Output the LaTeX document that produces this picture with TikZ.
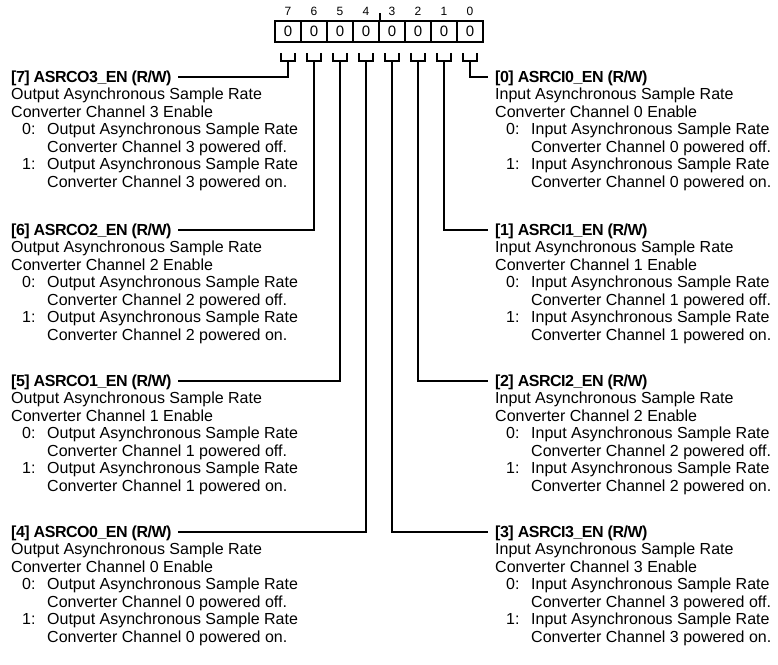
\documentclass[tikz,border=0pt]{standalone}
\usepackage{fontspec}
\setmainfont{Liberation Sans}[BoldFeatures={LetterSpace=-3}]
\usetikzlibrary{calc}
\tikzset{
  txt/.style={anchor=base west, inner sep=0pt, font=\fontsize{16}{17.5}\selectfont},
  cell/.style={draw, line width=2pt, minimum width=26pt, minimum height=21pt, inner sep=0pt, font=\fontsize{15}{16}\selectfont},
  bitlbl/.style={inner sep=0pt, font=\fontsize{12}{13}\selectfont},
  conn/.style={line width=2pt, line join=miter},
}
\newcommand\regblock[6]{%
  \node[txt,font=\fontsize{16}{17.5}\selectfont\bfseries] (#1h) at (#2,#3+5) {#4};
  \node[txt] (#1a) at (#2,#3+22.5) {#5 Asynchronous Sample Rate};
  \node[txt] (#1b) at (#2,#3+40) {Converter Channel #6 Enable};
  \node[txt] (#1c0) at (#2+11,#3+57.5) {0:};
  \node[txt] (#1c) at (#2+36,#3+57.5) {#5 Asynchronous Sample Rate};
  \node[txt] (#1d) at (#2+36,#3+75) {Converter Channel #6 powered off.};
  \node[txt] (#1e0) at (#2+11,#3+92.5) {1:};
  \node[txt] (#1e) at (#2+36,#3+92.5) {#5 Asynchronous Sample Rate};
  \node[txt] (#1f) at (#2+36,#3+110) {Converter Channel #6 powered on.};
}
\begin{document}
\begin{tikzpicture}[x=1pt,y=-1pt]
\useasboundingbox (0,0) rectangle (778,664);
% register cells
\foreach \b/\x in {7/288,6/314,5/340,4/366,3/392,2/418,1/444,0/470}{
  \node[cell] (c\b) at (\x,31) {0};
  \node[bitlbl] (b\b) at (\x,11.5) {\b};
  \draw[conn] ($(c\b.south)+(-7,10.5)$) -- ++(0,8) -- ++(14,0) -- ++(0,-8);
}
\draw[line width=1.5pt] (c4.north east) -- ++(0,-6.5);
% left blocks
\regblock{l7}{11}{77}{[7] ASRCO3\_EN (R/W)}{Output}{3}
\regblock{l6}{11}{230}{[6] ASRCO2\_EN (R/W)}{Output}{2}
\regblock{l5}{11}{381}{[5] ASRCO1\_EN (R/W)}{Output}{1}
\regblock{l4}{11}{532}{[4] ASRCO0\_EN (R/W)}{Output}{0}
% right blocks
\regblock{r0}{495}{77}{[0] ASRCI0\_EN (R/W)}{Input}{0}
\regblock{r1}{495}{230}{[1] ASRCI1\_EN (R/W)}{Input}{1}
\regblock{r2}{495}{381}{[2] ASRCI2\_EN (R/W)}{Input}{2}
\regblock{r3}{495}{532}{[3] ASRCI3\_EN (R/W)}{Input}{3}
% connectors
\foreach \b/\t in {7/l7,6/l6,5/l5,4/l4}{
  \draw[conn] ($(c\b.south)+(0,18.5)$) |- ([shift={(6,-5)}]\t h.base east);
}
\foreach \b/\t in {0/r0,1/r1,2/r2,3/r3}{
  \draw[conn] ($(c\b.south)+(0,18.5)$) |- ([shift={(-7,-5)}]\t h.base west);
}
\end{tikzpicture}
\end{document}
